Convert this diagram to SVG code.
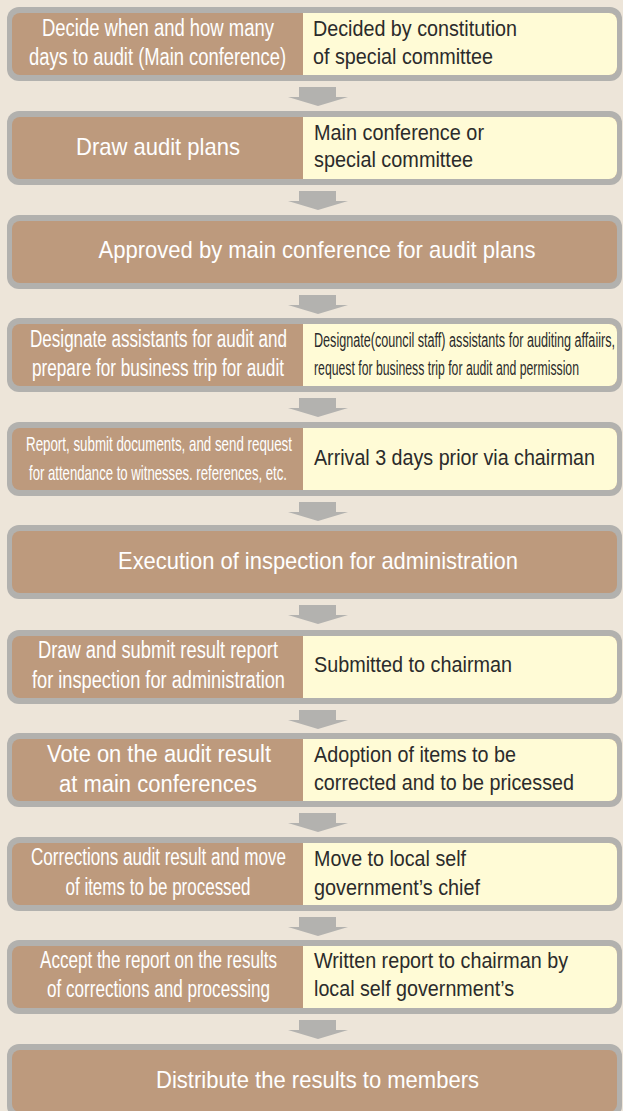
<svg xmlns="http://www.w3.org/2000/svg" width="623" height="1111" viewBox="0 0 623 1111">
<style>
.bg{fill:#ede5d9}
.outer{fill:#b2b1ae}
.brown{fill:#bd9a7d}
.cream{fill:#fffbd6}
.arrow{fill:#b3b2af}
.lt{font-family:"Liberation Sans Narrow","Liberation Sans",Arial,sans-serif;font-size:23px;fill:#ffffff;text-anchor:middle}
.ct{font-family:"Liberation Sans",Arial,sans-serif;font-size:24px;fill:#ffffff;text-anchor:middle}
.rt{font-family:"Liberation Sans",Arial,sans-serif;font-size:21.5px;fill:#2b2b2b}
.rs{font-family:"Liberation Sans Narrow","Liberation Sans",Arial,sans-serif;font-size:20px;fill:#2b2b2b}
</style>
<defs>
<g id="split">
<rect class="outer" x="7" y="0" width="615" height="74" rx="12"/>
<rect class="brown" x="12" y="6" width="605" height="62" rx="8"/>
<path class="cream" d="M303 6 H609 A8 8 0 0 1 617 14 V60 A8 8 0 0 1 609 68 H303 Z"/>
</g>
<g id="full">
<rect class="outer" x="7" y="0" width="615" height="74" rx="12"/>
<rect class="brown" x="12" y="6" width="605" height="62" rx="8"/>
</g>
<polygon id="arr" points="299,0 336,0 336,10 348,10 318,19 288,10 299,10"/>
</defs>
<rect class="bg" x="0" y="0" width="623" height="1111"/>

<g id="connectors">
<use href="#arr" class="arrow" x="0" y="87"/>
<use href="#arr" class="arrow" x="0" y="191"/>
<use href="#arr" class="arrow" x="0" y="295"/>
<use href="#arr" class="arrow" x="0" y="398"/>
<use href="#arr" class="arrow" x="0" y="502"/>
<use href="#arr" class="arrow" x="0" y="605"/>
<use href="#arr" class="arrow" x="0" y="710"/>
<use href="#arr" class="arrow" x="0" y="813"/>
<use href="#arr" class="arrow" x="0" y="917"/>
<use href="#arr" class="arrow" x="0" y="1020"/>
</g>

<g id="n1">
<use href="#split" y="7"/>
<text class="lt" x="158" y="36" textLength="232" lengthAdjust="spacingAndGlyphs">Decide when and how many</text>
<text class="lt" x="157.5" y="65" textLength="257" lengthAdjust="spacingAndGlyphs">days to audit (Main conference)</text>
<text class="rt" x="313" y="36" textLength="204" lengthAdjust="spacingAndGlyphs">Decided by constitution</text>
<text class="rt" x="313" y="64" textLength="180" lengthAdjust="spacingAndGlyphs">of special committee</text>
</g>

<g id="n2">
<use href="#split" y="111"/>
<text class="ct" x="158" y="155" textLength="164" lengthAdjust="spacingAndGlyphs">Draw audit plans</text>
<text class="rt" x="314" y="140" textLength="170" lengthAdjust="spacingAndGlyphs">Main conference or</text>
<text class="rt" x="314" y="167" textLength="159" lengthAdjust="spacingAndGlyphs">special committee</text>
</g>

<g id="n3">
<use href="#full" y="215"/>
<text class="ct" x="317" y="258" textLength="437" lengthAdjust="spacingAndGlyphs">Approved by main conference for audit plans</text>
</g>

<g id="n4">
<use href="#split" y="318"/>
<text class="lt" x="158.5" y="347" textLength="257" lengthAdjust="spacingAndGlyphs">Designate assistants for audit and</text>
<text class="lt" x="158" y="376" textLength="252" lengthAdjust="spacingAndGlyphs">prepare for business trip for audit</text>
<text class="rs" x="314" y="347" textLength="301" lengthAdjust="spacingAndGlyphs">Designate(council staff) assistants for auditing affaiirs,</text>
<text class="rs" x="314" y="375" textLength="265" lengthAdjust="spacingAndGlyphs">request for business trip for audit and permission</text>
</g>

<g id="n5">
<use href="#split" y="422"/>
<text class="lt" x="159" y="451" textLength="266" lengthAdjust="spacingAndGlyphs" style="font-size:21px">Report, submit documents, and send request</text>
<text class="lt" x="158" y="480" textLength="258" lengthAdjust="spacingAndGlyphs" style="font-size:21px">for attendance to witnesses. references, etc.</text>
<text class="rt" x="314" y="465" textLength="281" lengthAdjust="spacingAndGlyphs">Arrival 3 days prior via chairman</text>
</g>

<g id="n6">
<use href="#full" y="525"/>
<text class="ct" x="318" y="569" textLength="400" lengthAdjust="spacingAndGlyphs">Execution of inspection for administration</text>
</g>

<g id="n7">
<use href="#split" y="630"/>
<text class="lt" x="158" y="658" textLength="240" lengthAdjust="spacingAndGlyphs">Draw and submit result report</text>
<text class="lt" x="158.5" y="688" textLength="253" lengthAdjust="spacingAndGlyphs">for inspection for administration</text>
<text class="rt" x="314" y="672" textLength="198" lengthAdjust="spacingAndGlyphs">Submitted to chairman</text>
</g>

<g id="n8">
<use href="#split" y="733"/>
<text class="lt" x="159" y="762" textLength="224" lengthAdjust="spacingAndGlyphs">Vote on the audit result</text>
<text class="lt" x="158" y="792" textLength="198" lengthAdjust="spacingAndGlyphs">at main conferences</text>
<text class="rt" x="314" y="762" textLength="202" lengthAdjust="spacingAndGlyphs">Adoption of items to be</text>
<text class="rt" x="314" y="790" textLength="260" lengthAdjust="spacingAndGlyphs">corrected and to be pricessed</text>
</g>

<g id="n9">
<use href="#split" y="837"/>
<text class="lt" x="158.5" y="865" textLength="255" lengthAdjust="spacingAndGlyphs">Corrections audit result and move</text>
<text class="lt" x="158" y="895" textLength="185" lengthAdjust="spacingAndGlyphs">of items to be processed</text>
<text class="rt" x="314" y="866" textLength="152" lengthAdjust="spacingAndGlyphs">Move to local self</text>
<text class="rt" x="314" y="895" textLength="166" lengthAdjust="spacingAndGlyphs">government’s chief</text>
</g>

<g id="n10">
<use href="#split" y="940"/>
<text class="lt" x="158.5" y="968" textLength="237" lengthAdjust="spacingAndGlyphs">Accept the report on the results</text>
<text class="lt" x="158.5" y="997" textLength="223" lengthAdjust="spacingAndGlyphs">of corrections and processing</text>
<text class="rt" x="314" y="968" textLength="254" lengthAdjust="spacingAndGlyphs">Written report to chairman by</text>
<text class="rt" x="314" y="996" textLength="200" lengthAdjust="spacingAndGlyphs">local self government’s</text>
</g>

<g id="n11">
<use href="#full" y="1044"/>
<text class="ct" x="317.5" y="1088" textLength="323" lengthAdjust="spacingAndGlyphs">Distribute the results to members</text>
</g>
</svg>
